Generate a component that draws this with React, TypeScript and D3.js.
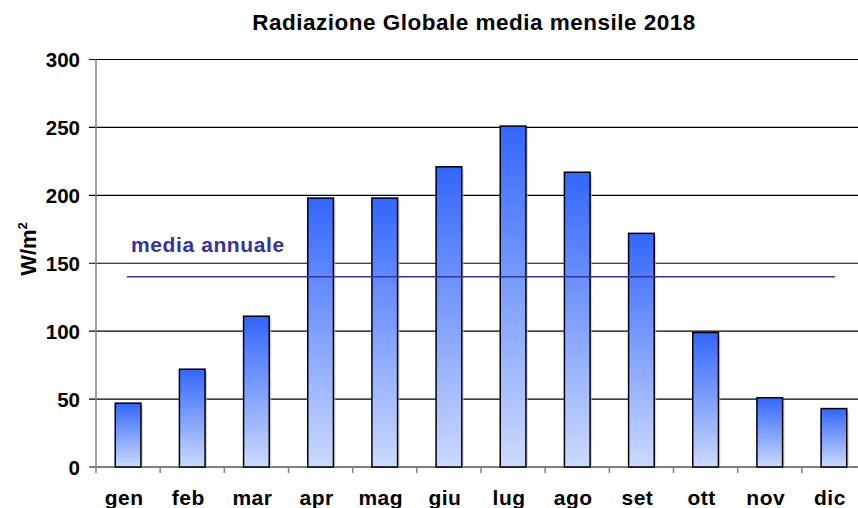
import React from "react";
import * as d3 from "d3";

const months = ["gen", "feb", "mar", "apr", "mag", "giu", "lug", "ago", "set", "ott", "nov", "dic"];
const values = [47, 72, 111, 198, 198, 221, 251, 217, 172, 99, 51, 43];
const yTicks = [0, 50, 100, 150, 200, 250, 300];
const annualMean = 140;
const title = "Radiazione Globale media mensile 2018";
const meanLabel = "media annuale";

const W = 858, H = 508;
const left = 96, right = 866, top = 59.5, bottom = 467;

export default function App() {
  const x = d3.scaleBand<string>().domain(months).range([left, right]).paddingInner(0.6).paddingOuter(0.3);
  const xb = d3.scaleBand<string>().domain(months).range([left, right]);
  const y = d3.scaleLinear().domain([0, 300]).range([bottom, top]);
  const font = "Arial, 'Liberation Sans', sans-serif";
  return (
    <svg width={W} height={H} style={{ position: "absolute", left: 0, top: 0 }} fontFamily={font}>
      <defs>
        <linearGradient id="barGrad" x1="0" y1="0" x2="0" y2="1">
          <stop offset="0" stopColor="#3366FF" />
          <stop offset="1" stopColor="#CCDAFF" />
        </linearGradient>
      </defs>
      <rect width={W} height={H} fill="#fff" />
      <text x={474} y={30} textAnchor="middle" fontSize={22.5} letterSpacing={0.5} fontWeight="bold">{title}</text>
      {yTicks.map((t) => (
        <g key={t}>
          <line x1={89} x2={W} y1={y(t)} y2={y(t)} stroke="#000" strokeWidth={1.2} />
          <text x={80} y={y(t) + 7.5} textAnchor="end" fontSize={20.5} fontWeight="bold">{t}</text>
        </g>
      ))}
      <line x1={left} x2={left} y1={top} y2={bottom} stroke="#808080" strokeWidth={1.5} />
      {months.map((m) => (
        <line key={"t" + m} x1={xb(m)!} x2={xb(m)!} y1={bottom} y2={bottom + 6} stroke="#808080" strokeWidth={1.5} />
      ))}
      {months.map((m, i) => (
        <g key={m}>
          <rect x={x(m)! + 2} y={y(values[i]) + 2} width={x.bandwidth()} height={bottom - y(values[i]) - 2} fill="#bbb" opacity={0.6} />
          <rect x={x(m)!} y={y(values[i])} width={x.bandwidth()} height={bottom - y(values[i])} fill="url(#barGrad)" stroke="#000" strokeWidth={1.5} />
          <text x={x(m)! + x.bandwidth() / 2 - 4} y={505} textAnchor="middle" fontSize={21} letterSpacing={0.5} fontWeight="bold">{m}</text>
        </g>
      ))}
      <line x1={127} x2={835} y1={y(annualMean)} y2={y(annualMean)} stroke="#333399" strokeWidth={1.5} />
      <text x={131} y={252} fontSize={21} letterSpacing={0.6} fontWeight="bold" fill="#333399">{meanLabel}</text>
      <text transform={`translate(36,${249}) rotate(-90)`} textAnchor="middle" fontSize={22} fontWeight="bold">
        W/m<tspan dy={-9} fontSize={13}>2</tspan>
      </text>
    </svg>
  );
}
